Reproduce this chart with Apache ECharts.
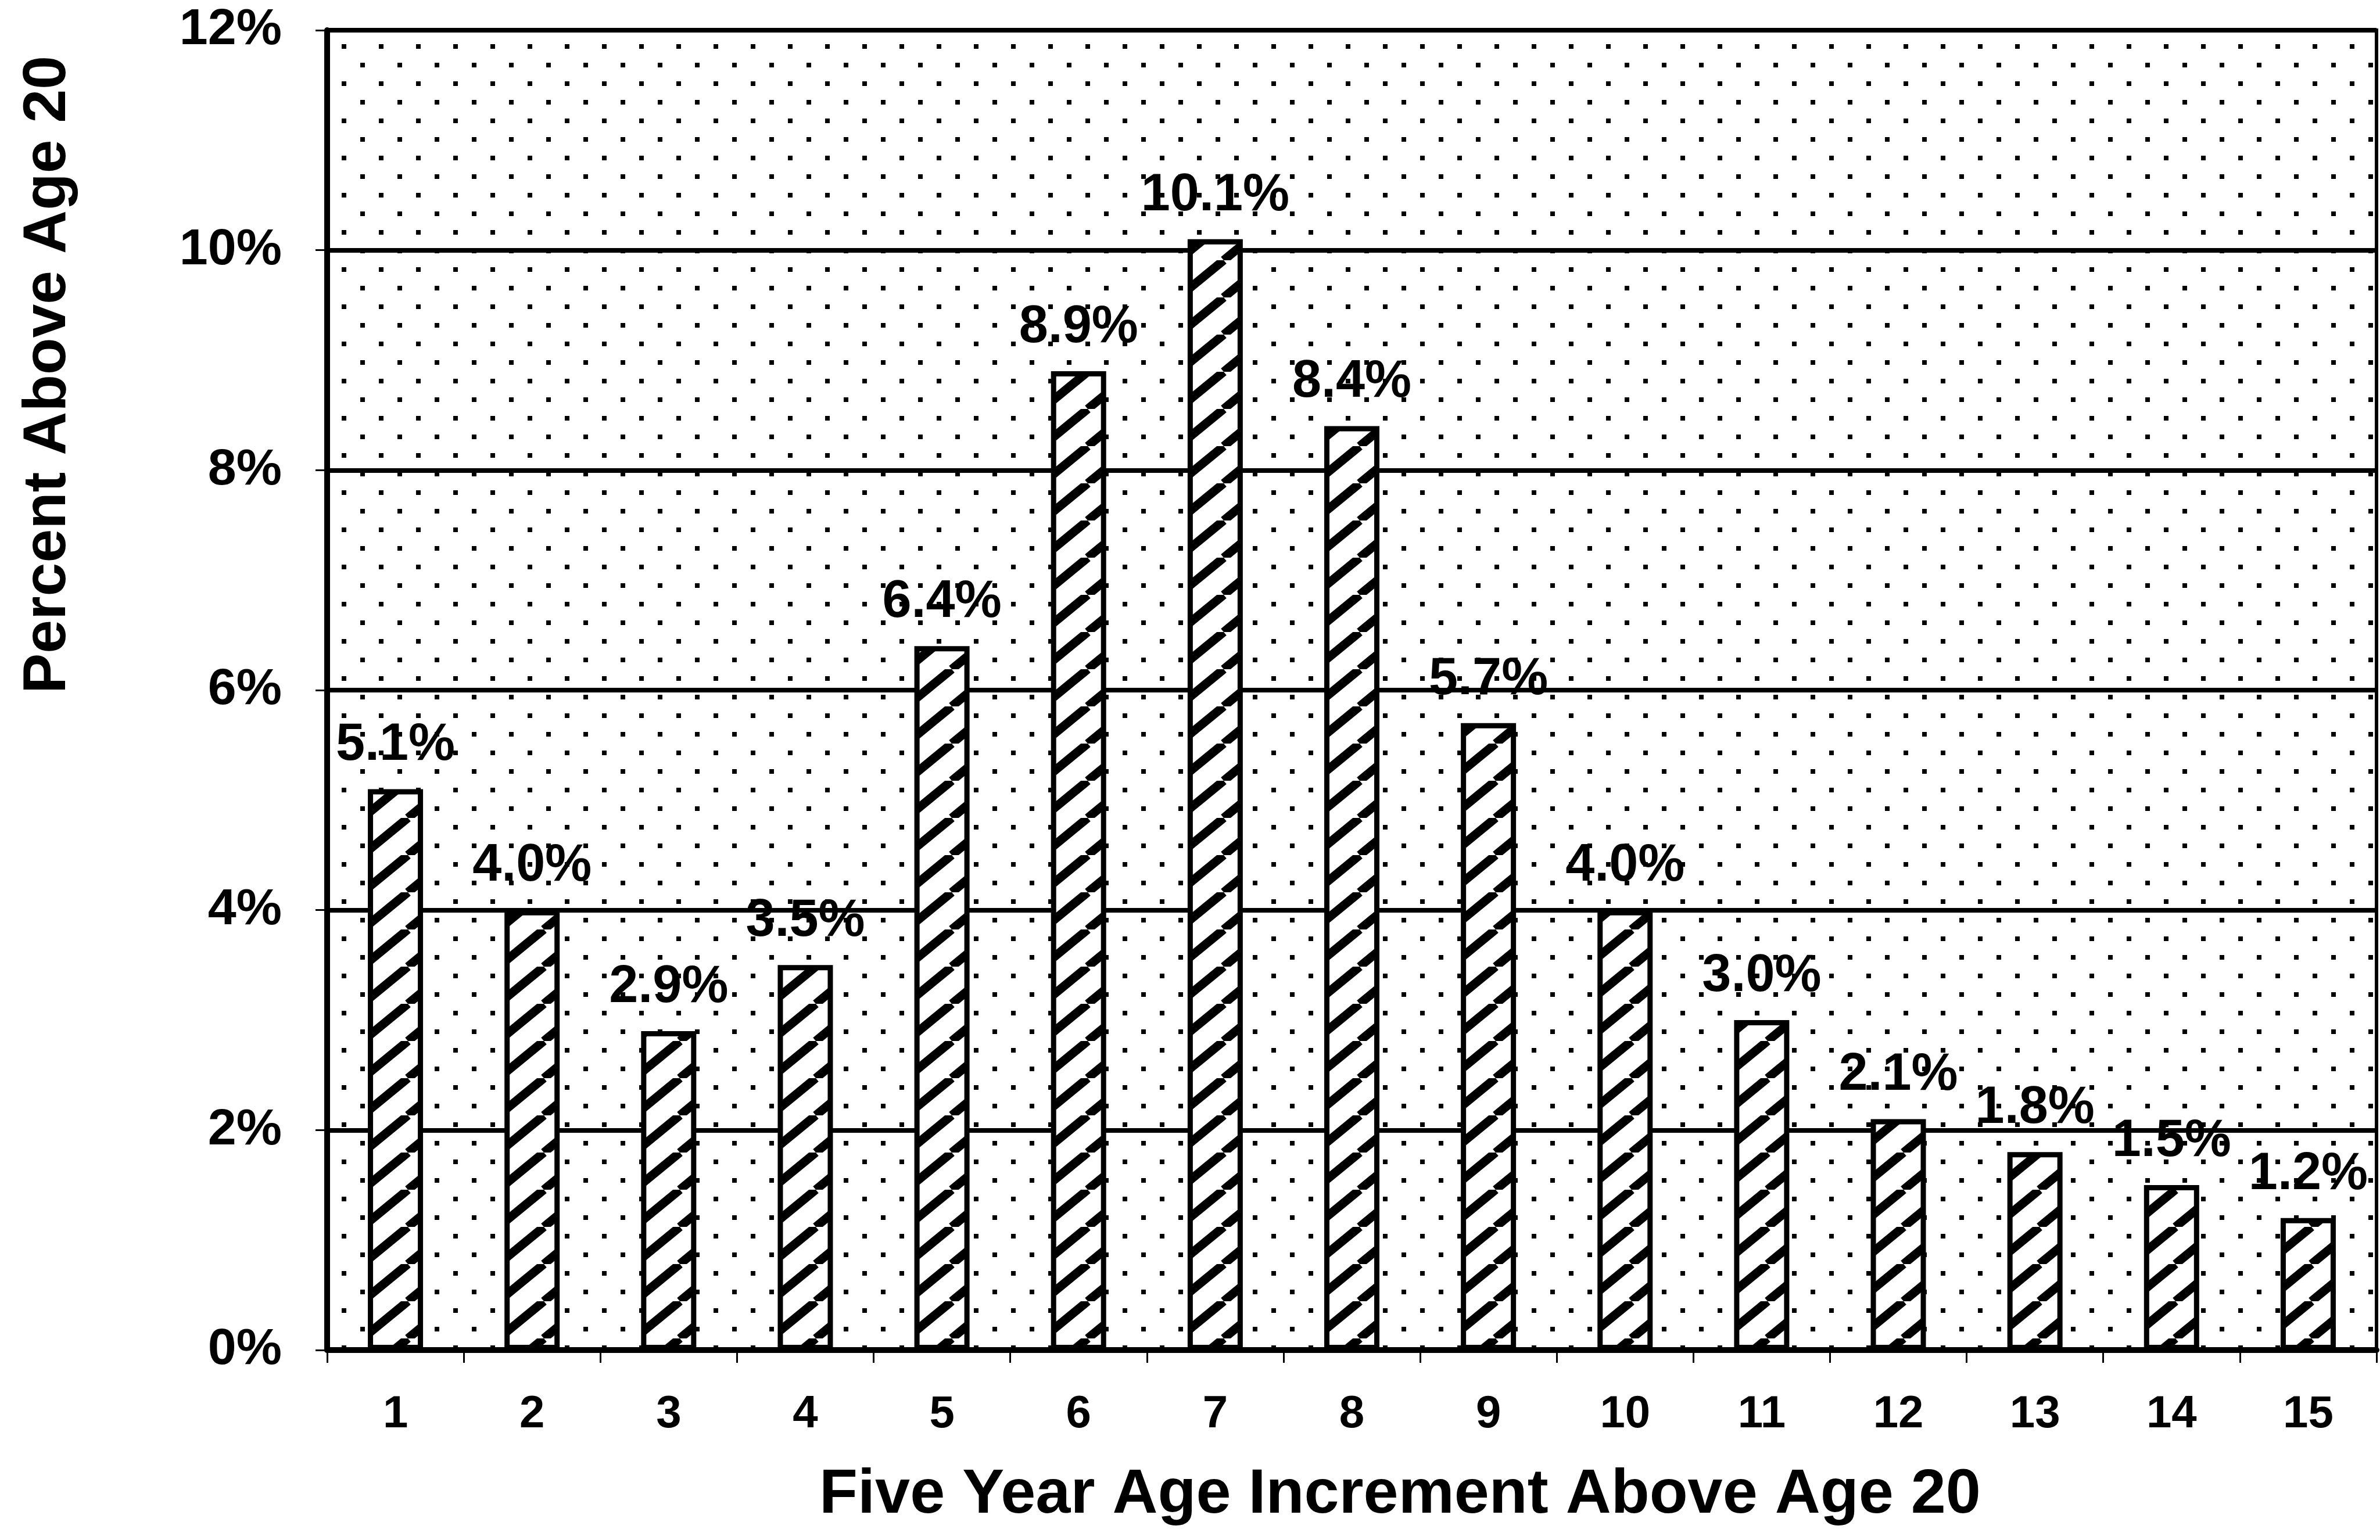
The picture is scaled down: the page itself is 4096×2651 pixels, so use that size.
<!DOCTYPE html>
<html>
<head>
<meta charset="utf-8">
<title>Five Year Age Increment Above Age 20</title>
<script src="https://cdn.jsdelivr.net/npm/echarts@6/dist/echarts.min.js"></script>
<style>
    html, body { margin: 0; padding: 0; background: #fff; }
    #main { width: 4096px; height: 2651px; }
</style>
</head>
<body>
<div id="main"></div>
<script>
// 数据
var categories = ['1', '2', '3', '4', '5', '6', '7', '8', '9', '10', '11', '12', '13', '14', '15'];
var percentValues = [5.1, 4.0, 2.9, 3.5, 6.4, 8.9, 10.1, 8.4, 5.7, 4.0, 3.0, 2.1, 1.8, 1.5, 1.2];
var yMin = 0, yMax = 12, yStep = 2;

var FONT = '"Liberation Sans", Arial, sans-serif';

// 背景点阵 (plot area dots)
function dotTile() {
    var c = document.createElement('canvas');
    c.width = 64; c.height = 64;
    var ctx = c.getContext('2d');
    ctx.fillStyle = '#fff';
    ctx.fillRect(0, 0, 64, 64);
    ctx.fillStyle = '#000';
    ctx.fillRect(12, 12, 8, 8);
    ctx.fillRect(44, 44, 8, 8);
    return c;
}

// 柱子斜线 (bar hatch /)
function hatchTile() {
    var w = 78, h = 64;
    var c = document.createElement('canvas');
    c.width = w; c.height = h;
    var ctx = c.getContext('2d');
    ctx.fillStyle = '#fff';
    ctx.fillRect(0, 0, w, h);
    ctx.strokeStyle = '#000';
    ctx.lineWidth = 15;
    for (var k = -1; k <= 1; k++) {
        ctx.beginPath();
        ctx.moveTo(k * w, h);
        ctx.lineTo((k + 1) * w, 0);
        ctx.stroke();
    }
    return c;
}

var myChart = echarts.init(document.getElementById('main'));
var option = {
    backgroundColor: '#fff',
    animation: false,
    grid: {
        left: 563, right: 6, top: 52, bottom: 327,
        show: true,
        backgroundColor: { image: dotTile(), repeat: 'repeat' },
        borderColor: '#000',
        borderWidth: 6
    },
    xAxis: {
        type: 'category',
        data: categories,
        name: 'Five Year Age Increment Above Age 20',
        nameLocation: 'middle',
        nameGap: 196,
        nameTextStyle: {
            color: '#000', fontFamily: FONT, fontWeight: 'bold', fontSize: 108,
            padding: [0, 0, 0, 166]
        },
        axisLine: { lineStyle: { color: '#000', width: 10 } },
        axisTick: { show: true, length: 22, lineStyle: { color: '#000', width: 3 } },
        axisLabel: {
            color: '#000', fontFamily: FONT, fontWeight: 'bold', fontSize: 78,
            margin: 72, interval: 0
        },
        splitLine: { show: false }
    },
    yAxis: {
        type: 'value',
        min: yMin, max: yMax, interval: yStep,
        axisLine: { show: true, lineStyle: { color: '#000', width: 10 } },
        axisTick: { show: true, length: 20, lineStyle: { color: '#000', width: 3 } },
        axisLabel: {
            color: '#000', fontFamily: FONT, fontWeight: 'bold', fontSize: 88,
            margin: 78,
            formatter: '{value}%'
        },
        splitLine: { show: true, lineStyle: { color: '#000', width: 8 } }
    },
    graphic: [{
        type: 'text',
        x: 83, y: 645,
        rotation: Math.PI / 2,
        style: {
            text: 'Percent Above Age 20',
            fill: '#000',
            font: 'bold 104px ' + FONT,
            align: 'center',
            verticalAlign: 'middle'
        }
    }],
    series: [{
        type: 'bar',
        data: percentValues,
        barWidth: 95,
        itemStyle: {
            color: { image: hatchTile(), repeat: 'repeat' },
            borderColor: '#000',
            borderWidth: 9
        },
        label: {
            show: true,
            position: 'top',
            distance: 30,
            color: '#000',
            fontFamily: FONT,
            fontWeight: 'bold',
            fontSize: 90,
            formatter: function (p) { return p.value.toFixed(1) + '%'; }
        }
    }]
};
myChart.setOption(option);
</script>
</body>
</html>
